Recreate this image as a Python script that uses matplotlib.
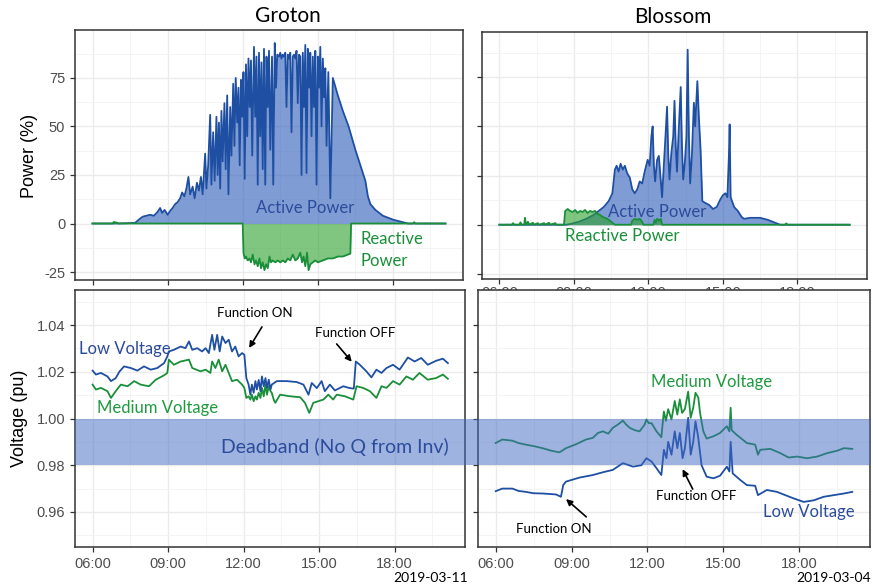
import matplotlib
matplotlib.use("Agg")
import matplotlib.pyplot as plt
import matplotlib.transforms as mtransforms
from matplotlib.patches import Rectangle
import numpy as np

# ---- data (hours of day) ----
groton_p_t = [6.0, 7.0, 7.7, 7.85, 8.0, 8.15, 8.3, 8.45, 8.6, 8.7, 8.78, 8.88, 9.0, 9.1, 9.2, 9.3, 9.4, 9.5,
              9.58, 9.67, 9.75, 9.83, 9.9, 10.0, 10.08, 10.17, 10.25, 10.33, 10.4, 10.5, 10.55, 10.62, 10.7,
              10.75, 10.82, 10.88, 10.95, 11.0, 11.05, 11.1, 11.15, 11.2, 11.27, 11.32, 11.38, 11.43, 11.5,
              11.55, 11.62, 11.67, 11.72, 11.78, 11.83, 11.88, 11.93, 11.98, 12.03, 12.08, 12.13, 12.18,
              12.23, 12.28, 12.33, 12.38, 12.45, 12.5, 12.55, 12.6, 12.65, 12.7, 12.75, 12.8, 12.85, 12.9,
              12.95, 13.0, 13.05, 13.1, 13.17, 13.22, 13.28, 13.33, 13.38, 13.45, 13.5, 13.55, 13.6, 13.65,
              13.7, 13.75, 13.8, 13.85, 13.9, 13.95, 14.0, 14.05, 14.1, 14.15, 14.2, 14.25, 14.3, 14.35,
              14.4, 14.45, 14.5, 14.55, 14.6, 14.65, 14.7, 14.75, 14.8, 14.85, 14.9, 14.95, 15.0, 15.05,
              15.1, 15.15, 15.2, 15.25, 15.3, 15.35, 15.42, 15.5, 15.6, 15.8, 16.0, 16.23, 16.5, 16.7,
              16.9, 17.0, 17.1, 17.3, 17.6, 18.0, 18.6, 20.1]
groton_p = [0, 0, 0.3, 2, 3.5, 4, 4.5, 4, 6, 8, 5.5, 7, 4.5, 6.5, 8, 10, 11, 13,
            16, 14, 18, 24, 15, 19, 13, 21, 17, 24, 15, 36, 18, 30, 56,
            20, 47, 22, 55, 25, 52, 18, 58, 32, 62, 28, 66, 15, 60,
            35, 72, 40, 75, 52, 70, 30, 74, 55, 78, 23, 82, 45,
            85, 60, 84, 35, 91, 55, 86, 20, 88, 45, 83, 28, 90, 20,
            86, 60, 89, 38, 86, 20, 93, 70, 87, 86, 88, 85, 87, 86,
            88, 60, 87, 85, 88, 47, 86, 87, 85, 89, 62, 87, 86, 25,
            88, 60, 92, 26, 90, 70, 88, 45, 86, 60, 89, 20, 86, 70,
            91, 50, 85, 65, 80, 40, 78, 13, 75, 66, 58, 50, 38, 30,
            22, 14, 10, 7, 4, 2, 0, 0]

groton_q_t = [6.0, 6.8, 6.85, 6.95, 7.05, 12.0, 12.03, 12.08, 12.13, 12.2, 12.27, 12.33, 12.4, 12.47,
              12.53, 12.6, 12.67, 12.73, 12.8, 12.87, 12.93, 13.0, 13.07, 13.13, 13.2, 13.3, 13.4, 13.5,
              13.6, 13.7, 13.8, 13.9, 14.0, 14.1, 14.2, 14.3, 14.37, 14.43, 14.5, 14.57, 14.63, 14.7,
              14.8, 14.9, 15.0, 15.2, 15.4, 15.6, 15.8, 16.0, 16.2, 16.3, 16.33, 18.8, 18.85, 18.9, 20.1]
groton_q = [0, 0, 0.8, 0.5, 0, 0, -15, -18, -17, -19, -18, -20, -16, -21,
            -19, -22, -18, -23, -20, -24, -21, -23, -17, -20, -19, -20, -19, -20,
            -19, -20, -18, -19, -16, -19, -18, -15, -20, -17, -22, -15, -24, -21,
            -20, -19, -20, -19, -18, -18, -17, -17, -16, -15.5, 0, 0, 0.7, 0, 0]

blossom_p_t = [6.0, 8.7, 8.9, 9.2, 9.5, 9.8, 10.0, 10.2, 10.4, 10.55, 10.65, 10.72, 10.8, 10.88, 10.97,
               11.05, 11.15, 11.25, 11.35, 11.45, 11.55, 11.65, 11.75, 11.85, 11.97, 12.05, 12.12, 12.17,
               12.22, 12.27, 12.35, 12.42, 12.5, 12.55, 12.62, 12.7, 12.75, 12.8, 12.85, 12.92, 13.0,
               13.05, 13.1, 13.15, 13.22, 13.3, 13.35, 13.4, 13.47, 13.53, 13.58, 13.63, 13.68, 13.75,
               13.83, 13.88, 13.97, 14.03, 14.1, 14.17, 14.3, 14.45, 14.6, 14.75, 14.9, 15.0, 15.1, 15.18,
               15.24, 15.27, 15.31, 15.45, 15.6, 15.75, 15.85, 16.1, 16.5, 16.8, 17.1, 17.3, 20.1]
blossom_p = [0, 0, 0.5, 1.5, 3, 5, 7, 9, 12, 16, 28, 30, 27, 31, 28,
             30, 26, 24, 18, 16, 18, 22, 21, 27, 33, 30, 45, 50,
             30, 22, 33, 35, 22, 14, 30, 48, 60, 35, 23, 36, 45,
             63, 40, 27, 48, 70, 40, 23, 32, 45, 89, 45, 21, 35,
             62, 50, 73, 55, 38, 12, 11, 10, 8, 9, 13, 15, 16, 14,
             35, 51, 14, 9, 7, 4, 3, 3.5, 3.5, 2.5, 1, 0, 0]

blossom_q_t = [6.0, 6.5, 6.55, 6.6, 6.8, 6.85, 6.9, 7.0, 7.03, 7.07, 7.15, 7.2, 7.35, 7.4, 7.55, 7.6,
               7.8, 7.85, 8.0, 8.05, 8.25, 8.3, 8.6, 8.65, 8.75, 8.85, 8.95, 9.05, 9.15, 9.25, 9.35,
               9.45, 9.55, 9.65, 9.75, 9.85, 9.95, 10.05, 10.15, 10.25, 10.35, 10.45, 10.55, 10.65,
               11.3, 11.35, 11.45, 11.55, 11.65, 11.75, 11.8, 12.2, 12.25, 12.3, 12.35, 12.45, 12.5,
               12.55, 17.5, 17.55, 17.6, 20.1]
blossom_q = [0, 0, 0.8, 0, 0, 1.2, 0, 0, 3.5, 0, 1.5, 0, 1, 0, 0.8, 0,
             0.8, 0, 1, 0, 0.8, 0, 0, 7, 8, 7, 6.5, 7.5, 6, 7, 6.5,
             7.5, 6, 7, 6.5, 7, 5.5, 5, 4, 3.5, 3, 2, 1, 0,
             0, 2, 3, 2.5, 3, 1.5, 0, 0, 2.5, 1, 3, 2, 3,
             0, 0, 0.7, 0, 0]

groton_lv_t = [6.0, 6.13, 6.33, 6.59, 6.73, 6.92, 7.06, 7.25, 7.52, 7.78, 8.04, 8.31, 8.57, 8.84, 8.97,
               9.03, 9.23, 9.5, 9.69, 9.83, 9.96, 10.16, 10.35, 10.49, 10.62, 10.75, 10.84, 10.95, 11.05,
               11.15, 11.28, 11.41, 11.54, 11.67, 11.8, 11.94, 12.03, 12.11, 12.2, 12.27, 12.33, 12.4,
               12.47, 12.53, 12.6, 12.67, 12.73, 12.8, 12.87, 12.93, 13.0, 13.07, 13.12, 13.32, 13.72,
               14.11, 14.38, 14.58, 14.71, 14.91, 15.1, 15.23, 15.43, 15.63, 15.96, 16.22, 16.38, 16.46,
               16.62, 16.88, 17.08, 17.28, 17.48, 17.68, 17.94, 18.2, 18.53, 18.8, 19.06, 19.32, 19.65,
               19.92, 20.12]
groton_lv = [1.0205, 1.0188, 1.0195, 1.018, 1.016, 1.0173, 1.02, 1.0223, 1.0216, 1.0205, 1.0223, 1.0209,
             1.0216, 1.0237, 1.0266, 1.0287, 1.0294, 1.0308, 1.0301, 1.033, 1.0294, 1.0301, 1.0287,
             1.0301, 1.028, 1.0358, 1.0294, 1.0358, 1.0287, 1.0351, 1.0323, 1.0337, 1.0287, 1.0308,
             1.0266, 1.028, 1.0273, 1.0173, 1.0145, 1.0102, 1.0145, 1.011, 1.016, 1.0124, 1.0165,
             1.0117, 1.018, 1.0138, 1.0173, 1.0131, 1.0166, 1.0124, 1.0145, 1.016, 1.016,
             1.0156, 1.0145, 1.0102, 1.0152, 1.013, 1.016, 1.0117, 1.0145, 1.012, 1.0138, 1.013, 1.0128,
             1.0244, 1.023, 1.0202, 1.0176, 1.0209, 1.0195, 1.0216, 1.023, 1.0209, 1.0261, 1.0244,
             1.0259, 1.023, 1.0247, 1.0256, 1.0237]

groton_mv_t = [6.0, 6.13, 6.33, 6.59, 6.73, 6.92, 7.12, 7.39, 7.65, 7.91, 8.24, 8.51, 8.84, 8.97, 9.03,
               9.23, 9.5, 9.83, 9.96, 10.29, 10.49, 10.68, 10.75, 10.88, 11.01, 11.15, 11.28, 11.41, 11.54,
               11.74, 11.94, 12.03, 12.11, 12.2, 12.27, 12.33, 12.4, 12.47, 12.53, 12.6, 12.67, 12.73,
               12.8, 12.87, 12.93, 13.0, 13.07, 13.12, 13.2, 13.26, 13.45, 13.85, 14.25,
               14.44, 14.61, 14.77, 14.97, 15.17, 15.37, 15.56, 15.7, 16.03, 16.36, 16.49, 16.75, 17.02,
               17.28, 17.48, 17.68, 17.94, 18.2, 18.47, 18.73, 18.99, 19.32, 19.65, 19.92, 20.12]
groton_mv = [1.0145, 1.0124, 1.0131, 1.0117, 1.0088, 1.0117, 1.0145, 1.0138, 1.016, 1.0145, 1.0138,
             1.0166, 1.0185, 1.0195, 1.0252, 1.023, 1.0244, 1.0252, 1.0216, 1.0202, 1.0209, 1.0195,
             1.0244, 1.0216, 1.0252, 1.0202, 1.023, 1.0195, 1.016, 1.0166, 1.0145, 1.0131, 1.0088,
             1.0095, 1.0081, 1.0102, 1.0074, 1.0095, 1.0081, 1.011, 1.0088, 1.0131,
             1.0095, 1.0145, 1.0102, 1.0138, 1.0117, 1.011, 1.008, 1.0067, 1.0102, 1.0095, 1.0091,
             1.0067, 1.0024, 1.0067, 1.0074, 1.0081, 1.0102, 1.0081, 1.0102, 1.0095, 1.0081, 1.0138,
             1.0131, 1.0117, 1.0088, 1.0138, 1.0131, 1.016, 1.0145, 1.018, 1.0166, 1.0195, 1.0166,
             1.0173, 1.0188, 1.017]

blossom_mv_t = [6.0, 6.26, 6.66, 6.9, 7.19, 7.5, 7.85, 8.2, 8.52, 8.78, 9.18, 9.57, 9.84, 10.04, 10.24,
                10.45, 10.63, 10.83, 11.03, 11.15, 11.3, 11.5, 11.69, 11.89, 11.96, 12.05, 12.16, 12.36,
                12.55, 12.65, 12.73, 12.82, 12.95, 13.08, 13.18, 13.28, 13.37, 13.48, 13.61, 13.71, 13.81,
                13.9, 14.01, 14.08, 14.21, 14.34, 14.61, 14.87, 15.14, 15.24, 15.29, 15.33, 15.53, 15.93,
                16.26, 16.37, 16.46, 16.86, 17.25, 17.58, 17.92, 18.31, 18.71, 19.11, 19.5, 19.77, 20.1]
blossom_mv = [0.9895, 0.991, 0.9905, 0.9895, 0.9888, 0.9882, 0.9873, 0.9862, 0.9855, 0.9873, 0.989,
              0.991, 0.9917, 0.9938, 0.9945, 0.9935, 0.996, 0.9974, 0.9991, 0.9975, 0.996, 0.995, 0.9945,
              0.9974, 0.9996, 0.998, 0.998, 0.9945, 0.992, 1.003, 0.999, 1.004, 0.9996, 1.0075, 1.0017,
              1.0082, 1.0024, 1.004, 1.0115, 1.0003, 1.0046, 1.011, 1.009, 1.0024, 0.9945, 0.9914,
              0.9924, 0.9938, 0.9967, 0.9945, 1.0046, 0.995, 0.993, 0.9895, 0.9888, 0.9845, 0.9866,
              0.987, 0.9852, 0.9833, 0.9837, 0.983, 0.9837, 0.9852, 0.9862, 0.9873, 0.987]

blossom_lv_t = [6.0, 6.26, 6.66, 6.9, 7.19, 7.5, 7.85, 8.38, 8.58, 8.67, 8.78, 9.31, 9.84, 10.24, 10.63,
                11.03, 11.43, 11.76, 11.96, 12.16, 12.36, 12.55, 12.65, 12.75, 12.82, 12.95, 13.08, 13.18,
                13.28, 13.39, 13.48, 13.61, 13.71, 13.81, 13.9, 14.01, 14.14, 14.34, 14.61, 14.87, 15.14,
                15.24, 15.29, 15.37, 15.67, 15.93, 16.26, 16.37, 16.72, 17.12, 17.52, 17.78, 18.18, 18.58,
                18.97, 19.37, 19.77, 20.1]
blossom_lv = [0.9689, 0.970, 0.970, 0.969, 0.9686, 0.968, 0.9679, 0.9675, 0.9665, 0.9715, 0.973, 0.9747,
              0.9758, 0.977, 0.978, 0.9809, 0.9794, 0.980, 0.983, 0.9816, 0.9787, 0.9758, 0.9866, 0.983,
              0.990, 0.9845, 0.9945, 0.9873, 0.9938, 0.983, 0.9873, 1.0003, 0.9845, 0.990, 0.9988,
              0.9917, 0.980, 0.9751, 0.9744, 0.9755, 0.9794, 0.9773, 0.990, 0.9765, 0.9737, 0.9715,
              0.9712, 0.9672, 0.9694, 0.9686, 0.9669, 0.9658, 0.9643, 0.965, 0.9665, 0.9672, 0.9679,
              0.9686]

hour_ticks = [6, 9, 12, 15, 18]
hour_labels = ["06:00", "09:00", "12:00", "15:00", "18:00"]
power_ticks = [-25, 0, 25, 50, 75]
volt_ticks = [0.96, 0.98, 1.00, 1.02, 1.04]

BLUE = "#1f4fa3"
BLUE_FILL = "#2a5cb8"
GREEN = "#1a8f3a"
GREEN_FILL = "#2ca02c"
TXT_BLUE = "#2b4b9b"
TXT_GREEN = "#1f9a3f"
ANN = ["Lato", "DejaVu Sans"]
TICK = ["Liberation Sans", "DejaVu Sans"]

W, H = 873, 588
fig = plt.figure(figsize=(W / 100, H / 100), dpi=100)


def box(l, t, r, b):
    return [l / W, 1 - b / H, (r - l) / W, (b - t) / H]


ax1 = fig.add_axes(box(75, 30, 463, 280))
ax2 = fig.add_axes(box(482, 32, 867, 279))
ax3 = fig.add_axes(box(75, 290, 465, 547))
ax4 = fig.add_axes(box(478, 290, 870, 547))


def style(ax, yticks, yminor, show_ylab, ylim):
    ax.set_xlim(5.3, 20.8)
    ax.set_ylim(*ylim)
    ax.set_xticks(hour_ticks)
    ax.set_xticklabels(hour_labels)
    ax.set_xticks([7.5, 10.5, 13.5, 16.5, 19.5], minor=True)
    ax.set_yticks(yticks)
    ax.set_yticks(yminor, minor=True)
    if not show_ylab:
        ax.set_yticklabels([])
    ax.grid(which="major", color="#ebebeb", lw=1.0, zorder=0)
    ax.grid(which="minor", color="#f3f3f3", lw=0.6, zorder=0)
    ax.set_axisbelow(True)
    ax.tick_params(which="major", length=3.5, width=0.9, color="#333333",
                   labelcolor="#4d4d4d", labelsize=10.5)
    ax.tick_params(which="minor", length=0)
    for lab in ax.get_xticklabels() + ax.get_yticklabels():
        lab.set_family(TICK)
    for s in ax.spines.values():
        s.set_color("#333333")
        s.set_linewidth(1.1)


style(ax1, power_ticks, [-12.5, 12.5, 37.5, 62.5, 87.5], True, (-29.1, 99.7))
style(ax2, power_ticks, [-12.5, 12.5, 37.5, 62.5, 87.5], False, (-27.6, 98))
style(ax3, volt_ticks, [0.95, 0.97, 0.99, 1.01, 1.03, 1.05], True, (0.945, 1.055))
style(ax4, volt_ticks, [0.95, 0.97, 0.99, 1.01, 1.03, 1.05], False, (0.945, 1.055))
ax1.set_yticklabels(["-25", "0", "25", "50", "75"])
ax3.set_yticklabels(["0.96", "0.98", "1.00", "1.02", "1.04"])
# top-right time labels sit mostly under the lower panel, as in the original
ax2.tick_params(axis="x", pad=1.5)

# power panels
for ax, pt, pv, qt, qv in [(ax1, groton_p_t, groton_p, groton_q_t, groton_q),
                           (ax2, blossom_p_t, blossom_p, blossom_q_t, blossom_q)]:
    ax.fill_between(pt, 0, pv, color=BLUE_FILL, alpha=0.6, lw=0, zorder=2)
    ax.plot(pt, pv, color=BLUE, lw=1.3, zorder=3)
    ax.fill_between(qt, 0, qv, color=GREEN_FILL, alpha=0.6, lw=0, zorder=4)
    ax.plot(qt, qv, color=GREEN, lw=1.3, zorder=5)

# voltage panels
ax3.plot(groton_mv_t, groton_mv, color=GREEN, lw=1.3, zorder=3)
ax3.plot(groton_lv_t, groton_lv, color=BLUE, lw=1.3, zorder=3)
ax4.plot(blossom_mv_t, blossom_mv, color=GREEN, lw=1.3, zorder=3)
ax4.plot(blossom_lv_t, blossom_lv, color=BLUE, lw=1.3, zorder=3)

# deadband stretched across both voltage panels
tr = mtransforms.blended_transform_factory(fig.transFigure, ax3.transData)
band = Rectangle((75 / W, 0.98), (870 - 75) / W, 0.02, transform=tr,
                 facecolor="#4169c4", alpha=0.5, lw=0, zorder=5)
fig.add_artist(band)
fig.text(15.62, 0.9877, "Deadband (No Q from Inv)", transform=ax3.transData, ha="center",
         va="center", fontsize=14, color=TXT_BLUE, family=ANN, zorder=6)

# titles and axis labels
fig.text(288 / W, 1 - 16 / H, "Groton", ha="center", va="center", fontsize=15, family=ANN)
fig.text(673 / W, 1 - 17 / H, "Blossom", ha="center", va="center", fontsize=15, family=ANN)
fig.text(30 / W, 1 - 156 / H, "Power (%)", rotation=90, ha="center", va="center", fontsize=13, family=TICK)
fig.text(20 / W, 1 - 418 / H, "Voltage (pu)", rotation=90, ha="center", va="center", fontsize=13,
         family=TICK)
fig.text(468 / W, 1 - 578 / H, "2019-03-11", ha="right", va="center", fontsize=10, family=ANN)
fig.text(871 / W, 1 - 578 / H, "2019-03-04", ha="right", va="center", fontsize=10, family=ANN)

# series labels
ax1.text(14.49, 8.2, "Active Power", ha="center", va="center", fontsize=12, color=TXT_BLUE, family=ANN, zorder=7)
ax1.text(16.72, -13.7, "Reactive\nPower", ha="left", va="center", fontsize=12, color=GREEN, family=ANN,
         linespacing=1.5, zorder=7)
ax2.text(12.36, 6.6, "Active Power", ha="center", va="center", fontsize=12, color=TXT_BLUE, family=ANN, zorder=7)
ax2.text(10.95, -5.6, "Reactive Power", ha="center", va="center", fontsize=12, color=GREEN, family=ANN, zorder=7)

ax3.text(5.45, 1.0298, "Low Voltage", ha="left", va="center", fontsize=12, color=TXT_BLUE, family=ANN, zorder=7)
ax3.text(6.16, 1.0047, "Medium Voltage", ha="left", va="center", fontsize=12, color=TXT_GREEN, family=ANN, zorder=7)
ax4.text(14.54, 1.0157, "Medium Voltage", ha="center", va="center", fontsize=12, color=TXT_GREEN, family=ANN, zorder=7)
ax4.text(18.40, 0.960, "Low Voltage", ha="center", va="center", fontsize=12, color=TXT_BLUE, family=ANN, zorder=7)

arrow = dict(arrowstyle="-|>", color="black", lw=1.2, mutation_scale=9, shrinkA=0, shrinkB=0)
ax3.text(12.46, 1.0451, "Function ON", ha="center", va="center", fontsize=9.5, family=ANN)
ax3.annotate("", xy=(12.22, 1.0302), xytext=(12.73, 1.0392), arrowprops=arrow)
ax3.text(16.42, 1.0366, "Function OFF", ha="center", va="center", fontsize=9.5, family=ANN)
ax3.annotate("", xy=(16.30, 1.0243), xytext=(15.70, 1.0319), arrowprops=arrow)
ax4.text(13.91, 0.9668, "Function OFF", ha="center", va="center", fontsize=9.5, family=ANN)
ax4.annotate("", xy=(13.39, 0.9783), xytext=(13.79, 0.9698), arrowprops=arrow)
ax4.text(8.30, 0.9528, "Function ON", ha="center", va="center", fontsize=9.5, family=ANN)
ax4.annotate("", xy=(8.78, 0.9655), xytext=(9.58, 0.9579), arrowprops=arrow)

fig.savefig("out.png", dpi=100)
